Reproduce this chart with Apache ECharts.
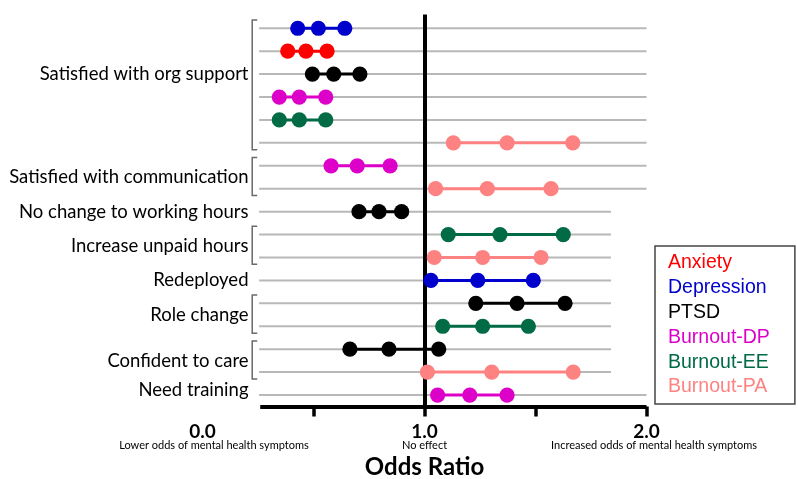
<!DOCTYPE html>
<html>
<head>
<meta charset="utf-8">
<script src="https://cdn.jsdelivr.net/npm/echarts@6/dist/echarts.min.js"></script>
<style>
html,body{margin:0;padding:0;background:#fff;}
#chart{width:798px;height:479px;}
</style>
</head>
<body>
<div id="chart"></div>
<script>
// Category labels and the row position (row units) they sit at
const categories = ['Satisfied with org support', 'Satisfied with communication', 'No change to working hours',
  'Increase unpaid hours', 'Redeployed', 'Role change', 'Confident to care', 'Need training'];
const labelRows = [2, 6.5, 8, 9.5, 11, 12.5, 14.5, 15.8];
// Bracketed groups of rows [firstRow, lastRow]
const brackets = [[0, 5], [6, 7], [9, 10], [12, 13], [14, 15]];
// Right end (odds ratio) of each row's grey guide line
const rowEnds = [2, 2, 2, 2, 2, 2, 2, 2, 1.84, 1.84, 1.84, 1.84, 1.84, 1.84, 1.84, 1.84, 2];

const outcomes = ['Anxiety', 'Depression', 'PTSD', 'Burnout-DP', 'Burnout-EE', 'Burnout-PA'];
const colors = ['#ff0000', '#0000cc', '#000000', '#dd00c8', '#006b45', '#ff8282'];

// [row, lower CI, odds ratio, upper CI]
const anxiety = [[1, 0.384, 0.466, 0.561]];
const depression = [[0, 0.429, 0.522, 0.641], [11, 1.029, 1.240, 1.490]];
const ptsd = [[2, 0.495, 0.591, 0.709], [8, 0.705, 0.795, 0.897], [12, 1.231, 1.417, 1.633], [14, 0.664, 0.840, 1.064]];
const burnoutDP = [[3, 0.346, 0.436, 0.555], [6, 0.579, 0.697, 0.845], [16, 1.059, 1.204, 1.372]];
const burnoutEE = [[4, 0.346, 0.436, 0.555], [9, 1.107, 1.340, 1.625], [13, 1.082, 1.262, 1.468]];
const burnoutPA = [[5, 1.130, 1.372, 1.668], [7, 1.050, 1.283, 1.570], [10, 1.044, 1.262, 1.525], [15, 1.013, 1.303, 1.670]];
const seriesData = [anxiety, depression, ptsd, burnoutDP, burnoutEE, burnoutPA];

// x axis labels
const tickValues = [0, 1, 2];
const tickLabels = ['0.0', '1.0', '2.0'];
const tickNotes = ['Lower odds of mental health symptoms', 'No effect', 'Increased odds of mental health symptoms'];
const axisStart = 0.26;

const chart = echarts.init(document.getElementById('chart'), null, {renderer: 'canvas'});

const outcomeSeries = outcomes.map((name, k) => ({
  name: name,
  type: 'custom',
  coordinateSystem: 'cartesian2d',
  z: 5,
  silent: true,
  itemStyle: {color: colors[k]},
  data: seriesData[k],
  renderItem: function (params, api) {
    const row = api.value(0);
    const a = api.coord([api.value(1), row]);
    const m = api.coord([api.value(2), row]);
    const b = api.coord([api.value(3), row]);
    const c = colors[k];
    const circ = p => ({type: 'circle', shape: {cx: p[0], cy: p[1], r: 7.6}, style: {fill: c}});
    return {
      type: 'group',
      children: [
        {type: 'line', shape: {x1: a[0], y1: a[1], x2: b[0], y2: b[1]}, style: {stroke: c, lineWidth: 3}},
        circ(a), circ(m), circ(b)
      ]
    };
  }
}));

const option = {
  animation: false,
  backgroundColor: '#ffffff',
  grid: {left: 202.5, right: 151.5, top: 14.5, height: 392, containLabel: false, outerBoundsMode: 'none'},
  xAxis: {
    type: 'value', min: 0, max: 2,
    position: 'bottom',
    axisLine: {show: false, onZero: false},
    splitLine: {show: false},
    axisTick: {show: true, customValues: [0.5, 1, 1.5, 2], length: 10, lineStyle: {color: '#000', width: 3.5}},
    axisLabel: {
      customValues: tickValues,
      margin: 17,
      formatter: function (v) {
        const i = tickValues.indexOf(v);
        return '{b|' + tickLabels[i] + '}\n{s' + i + '|' + tickNotes[i] + '}';
      },
      rich: {
        b: {fontFamily: 'Lato', fontWeight: 'bold', fontSize: 19, lineHeight: 16, color: '#000'},
        s0: {fontFamily: 'Lato', fontSize: 11, lineHeight: 11, color: '#000', padding: [0, 0, 0, 23]},
        s1: {fontFamily: 'Lato', fontSize: 11, lineHeight: 11, color: '#000'},
        s2: {fontFamily: 'Lato', fontSize: 11, lineHeight: 11, color: '#000', padding: [0, 0, 0, 15]}
      }
    },
    name: 'Odds Ratio',
    nameLocation: 'middle',
    nameGap: 33,
    nameTextStyle: {fontFamily: 'Lato', fontWeight: 'bold', fontSize: 24, color: '#000'}
  },
  yAxis: {
    type: 'value', inverse: true, min: -0.6, max: 16.5,
    offset: -54,
    axisLine: {show: false},
    axisTick: {show: false},
    splitLine: {show: false},
    axisLabel: {
      customValues: labelRows,
      margin: 8,
      formatter: function (v) {
        return categories[labelRows.indexOf(v)];
      },
      fontFamily: 'Lato', fontSize: 18.5, color: '#000'
    }
  },
  legend: {
    orient: 'vertical',
    left: 655, top: 246,
    selectedMode: false,
    itemWidth: 0, itemHeight: 0, itemGap: 4.8,
    icon: 'rect',
    padding: [7, 25, 7, 8],
    borderColor: '#444', borderWidth: 1.5,
    textStyle: {fontFamily: 'Liberation Sans', fontSize: 19.5, lineHeight: 19},
    data: outcomes.map((n, i) => ({name: n, textStyle: {color: colors[i]}}))
  },
  series: [
    {
      name: 'rows',
      type: 'custom',
      coordinateSystem: 'cartesian2d',
      silent: true,
      z: 1,
      data: rowEnds.map((e, i) => [i, e]),
      renderItem: function (params, api) {
        const row = api.value(0);
        const p1 = api.coord([axisStart - 0.005, row]);
        const p2 = api.coord([api.value(1), row]);
        return {type: 'line', shape: {x1: p1[0], y1: p1[1], x2: p2[0], y2: p2[1]}, style: {stroke: '#b8b8b8', lineWidth: 2}};
      }
    },
    {
      name: 'brackets',
      type: 'custom',
      coordinateSystem: 'cartesian2d',
      silent: true,
      z: 1,
      data: brackets,
      renderItem: function (params, api) {
        const top = api.coord([axisStart, api.value(0) - 0.36]);
        const bot = api.coord([axisStart, api.value(1) + 0.3]);
        const x = top[0] - 8;
        return {type: 'polyline', shape: {points: [[x + 5, top[1]], [x, top[1]], [x, bot[1]], [x + 5, bot[1]]]},
          style: {stroke: '#6a6a6a', lineWidth: 1.5, fill: null}};
      }
    },
    {
      name: 'frame',
      type: 'line',
      data: [],
      z: 3,
      silent: true,
      markLine: {
        silent: true,
        symbol: ['none', 'none'],
        label: {show: false},
        lineStyle: {color: '#000', width: 4, type: 'solid'},
        data: [
          {xAxis: 1},
          [{coord: [axisStart, 16.5]}, {coord: [2, 16.5]}]
        ]
      }
    }
  ].concat(outcomeSeries)
};

chart.setOption(option);
</script>
</body>
</html>
